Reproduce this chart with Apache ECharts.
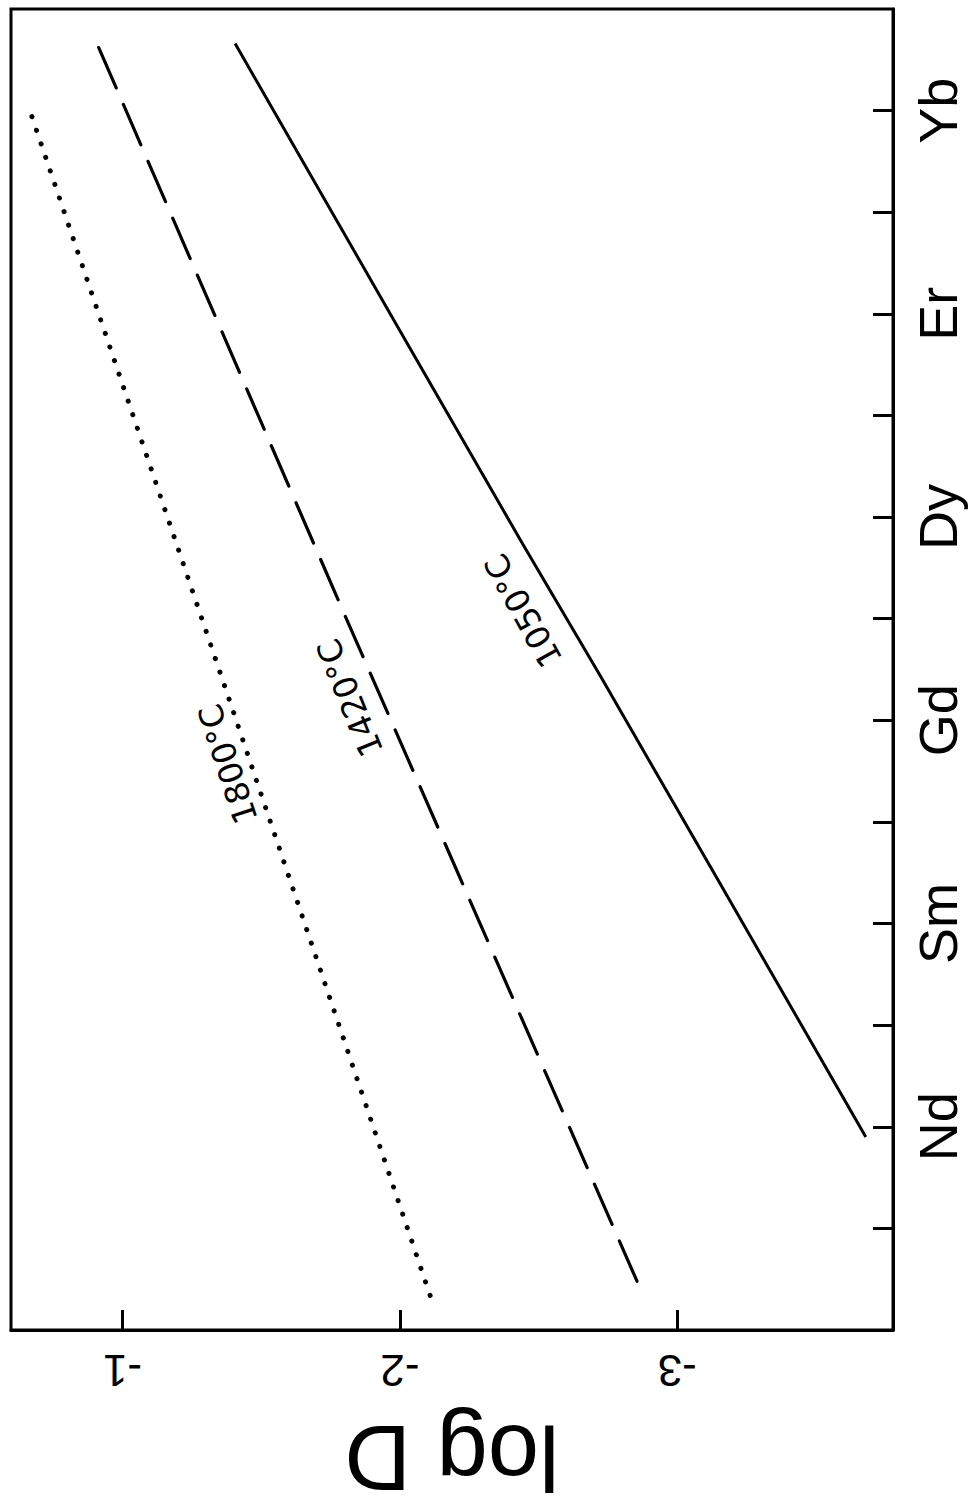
<!DOCTYPE html>
<html>
<head>
<meta charset="utf-8">
<script src="https://cdn.jsdelivr.net/npm/echarts@6/dist/echarts.min.js"></script>
<style>
html,body{margin:0;padding:0;background:#fff;}
#chart{width:970px;height:1509px;}
</style>
</head>
<body>
<div id="chart"></div>
<script>
// Element order (index used on the element axis)
const elements = ['La','Ce','Pr','Nd','Pm','Sm','Eu','Gd','Tb','Dy','Ho','Er','Tm','Yb','Lu'];
const labeledElements = [3, 5, 7, 9, 11, 13];        // Nd, Sm, Gd, Dy, Er, Yb
const elementTicks = [2,3,4,5,6,7,8,9,10,11,12,13];
const logDTicks = [-3, -2, -1];

// Curves: [log D, element index]
const curve1050 = [[-3.68, 2.90], [-2.722, 7.44], [-2.444, 8.73], [-1.406, 13.66]];
const curve1420 = [[-2.855, 1.48], [-1.799, 8.05], [-0.908, 13.66]];
const curve1800 = [[-2.109, 1.34], [-1.384, 7.21], [-0.666, 13.00]];

// Curve labels
const curveLabels = ['1800\u00b0C', '1420\u00b0C', '1050\u00b0C'];
const curveLabelAt = [[-1.380, 6.57], [-1.820, 7.22], [-2.445, 8.08]];
const curveLabelAngle = [108, 112, 119];

const chart = echarts.init(document.getElementById('chart'), null, {renderer: 'svg'});
const FONT = 'Liberation Sans, Arial, Helvetica, sans-serif';

const option = {
  backgroundColor: '#fff',
  animation: false,
  grid: {left: 11, right: 77, top: 9, bottom: 162, show: true, borderColor: '#000', borderWidth: 3},
  xAxis: {
    type: 'value', inverse: true, min: -3.778, max: -0.598, position: 'bottom',
    axisLine: {show: true, lineStyle: {color: '#000', width: 3}},
    axisTick: {show: true, inside: true, length: 20, lineStyle: {color: '#000', width: 3}, customValues: logDTicks},
    axisLabel: {show: true, customValues: logDTicks, rotate: 180, fontSize: 44, color: '#000', fontFamily: FONT, margin: 18,
      formatter: v => String(v)},
    splitLine: {show: false},
    name: 'log D', nameLocation: 'middle', nameRotate: 180, nameGap: 82,
    nameTextStyle: {fontSize: 92, color: '#000', fontFamily: FONT, lineHeight: 92}
  },
  yAxis: {
    type: 'value', min: 1, max: 14, position: 'right',
    axisLine: {show: true, lineStyle: {color: '#000', width: 3}},
    axisTick: {show: true, inside: true, length: 20, lineStyle: {color: '#000', width: 3}, customValues: elementTicks},
    axisLabel: {show: true, customValues: labeledElements, rotate: 90, fontSize: 54, lineHeight: 50, color: '#000', fontFamily: FONT, margin: 20,
      formatter: v => elements[Math.round(v)]},
    splitLine: {show: false}
  },
  series: [
    {type: 'line', name: '1050', data: curve1050, showSymbol: false, smooth: 0.3,
      lineStyle: {color: '#000', width: 3, type: 'solid'}},
    {type: 'line', name: '1420', data: curve1420, showSymbol: false,
      lineStyle: {color: '#000', width: 3.2, type: [44, 18], cap: 'round'}},
    {type: 'line', name: '1800', data: curve1800, showSymbol: false,
      lineStyle: {color: '#000', width: 5, type: [0.1, 14.2], cap: 'round'}}
  ]
};
chart.setOption(option);

const graphics = curveLabels.map((t, k) => {
  const p = chart.convertToPixel({gridIndex: 0}, curveLabelAt[k]);
  return {
    type: 'text', x: p[0], y: p[1], rotation: curveLabelAngle[k] * Math.PI / 180,
    style: {text: t, fontSize: 33, fontFamily: 'DejaVu Sans, sans-serif', fill: '#000', align: 'center', verticalAlign: 'middle'}
  };
});
chart.setOption({graphic: graphics});
</script>
</body>
</html>
